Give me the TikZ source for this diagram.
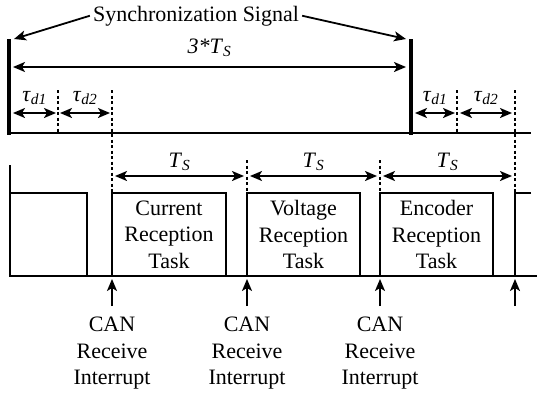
\documentclass[tikz,border=0pt]{standalone}
\usepackage{fontspec}
\setmainfont{Liberation Serif}
\newfontfamily\figfont{Liberation Serif}
\usetikzlibrary{arrows.meta}
\tikzset{
  sigline/.style={line width=1.8pt},
  syncbar/.style={line width=4.5pt},
  markline/.style={line width=1.8pt, dash pattern=on 3pt off 2.5pt},
  dimarrow/.style={line width=1.8pt, {Stealth[length=12pt,width=10pt,inset=3pt]}-{Stealth[length=12pt,width=10pt,inset=3pt]}},
  ptarrow/.style={line width=1.8pt, -{Stealth[length=12pt,width=10pt,inset=3pt]}},
  lbl/.style={font=\figfont\fontsize{22}{26.5}\selectfont, inner sep=0pt},
  taskbox/.style={draw, line width=1.8pt, minimum height=83pt, inner sep=0pt, align=center, font=\figfont\fontsize{22}{26.5}\selectfont},
  irqlbl/.style={lbl, align=center, anchor=north}
}
\begin{document}
\begin{tikzpicture}[x=1pt,y=-1pt]
  \useasboundingbox (0,0) rectangle (538,394);

  % synchronization signal
  \coordinate (lbtop) at (14,39);
  \coordinate (rbtop) at (406,39);
  \draw[sigline] (8,133) -- (531,133);
  \draw[syncbar] (9,39) -- (9,135);
  \draw[syncbar] (411,39) -- (411,135);
  \node[lbl, anchor=base, inner xsep=3pt] (sync) at (196,21) {Synchronization Signal};
  \draw[ptarrow] (sync.west) -- (lbtop);
  \draw[ptarrow] (sync.east) -- (rbtop);

  % period and delays
  \coordinate (pA) at (13,67);
  \coordinate (pB) at (406,67);
  \draw[dimarrow] (pA) -- node[lbl, above=9pt] (period) {\textit{3*T}\textsubscript{\textit{S}}} (pB);

  \draw[markline] (58,90) -- (58,133);
  \draw[markline] (112,90) -- (112,193);
  \draw[markline] (457,90) -- (457,133);
  \draw[markline] (515,90) -- (515,193);
  \draw[markline] (247,160) -- (247,193);
  \draw[markline] (380,160) -- (380,193);

  \coordinate (dA) at (13,113);
  \coordinate (dB) at (56,113);
  \coordinate (dC) at (60,113);
  \coordinate (dD) at (110,113);
  \coordinate (dE) at (415,113);
  \coordinate (dF) at (455,113);
  \coordinate (dG) at (460,113);
  \coordinate (dH) at (512,113);
  \draw[dimarrow] (dA) -- node[lbl, above=7pt] (tdA) {\textit{τ}\textsubscript{\textit{d1}}} (dB);
  \draw[dimarrow] (dC) -- node[lbl, above=7pt] (tdB) {\textit{τ}\textsubscript{\textit{d2}}} (dD);
  \draw[dimarrow] (dE) -- node[lbl, above=7pt] (tdC) {\textit{τ}\textsubscript{\textit{d1}}} (dF);
  \draw[dimarrow] (dG) -- node[lbl, above=7pt] (tdD) {\textit{τ}\textsubscript{\textit{d2}}} (dH);

  % task slots
  \coordinate (sA) at (115,176);
  \coordinate (sB) at (244,176);
  \coordinate (sC) at (250,176);
  \coordinate (sD) at (377,176);
  \coordinate (sE) at (383,176);
  \coordinate (sF) at (512,176);
  \draw[dimarrow] (sA) -- node[lbl, above=4pt] (tsA) {\textit{T}\textsubscript{\textit{S}}} (sB);
  \draw[dimarrow] (sC) -- node[lbl, above=4pt] (tsB) {\textit{T}\textsubscript{\textit{S}}} (sD);
  \draw[dimarrow] (sE) -- node[lbl, above=4pt] (tsC) {\textit{T}\textsubscript{\textit{S}}} (sF);

  \draw[sigline] (10,165) -- (10,276);
  \draw[sigline] (10,193) -- (87,193) -- (87,276);
  \draw[sigline] (531,193) -- (515,193) -- (515,276);
  \node[taskbox, minimum width=114pt] (cur) at (169,234.5) {Current\\Reception\\Task};
  \node[taskbox, minimum width=113pt] (volt) at (303.5,234.5) {Voltage\\Reception\\Task};
  \node[taskbox, minimum width=113pt] (enc) at (436.5,234.5) {Encoder\\Reception\\Task};
  \draw[sigline] (9,276) -- (537,276);

  % CAN interrupts
  \coordinate (irqA) at (112,279);
  \coordinate (irqB) at (247,279);
  \coordinate (irqC) at (380,279);
  \coordinate (irqD) at (515,279);
  \coordinate (irqtail) at (515,306);
  \node[irqlbl] (canA) at (112,317) {CAN\\Receive\\Interrupt};
  \node[irqlbl] (canB) at (247,317) {CAN\\Receive\\Interrupt};
  \node[irqlbl] (canC) at (380,317) {CAN\\Receive\\Interrupt};
  \draw[ptarrow, shorten <=11pt] (canA.north) -- (irqA);
  \draw[ptarrow, shorten <=11pt] (canB.north) -- (irqB);
  \draw[ptarrow, shorten <=11pt] (canC.north) -- (irqC);
  \draw[ptarrow] (irqtail) -- (irqD);
\end{tikzpicture}
\end{document}
